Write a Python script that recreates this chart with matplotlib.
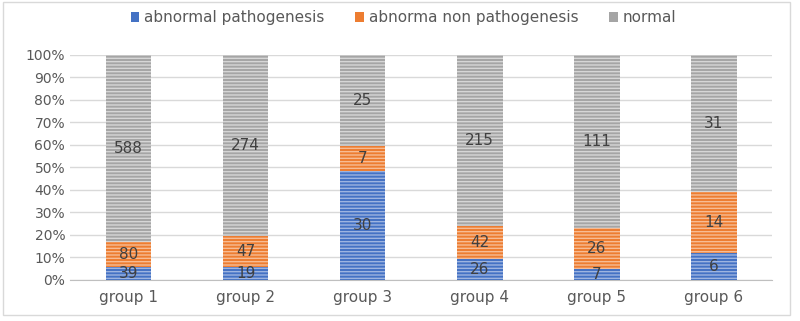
import matplotlib
matplotlib.use('Agg')
import matplotlib.pyplot as plt
import numpy as np
from matplotlib.patches import Rectangle

# datos (conteos)
grupos = ['group 1', 'group 2', 'group 3', 'group 4', 'group 5', 'group 6']
patogenico = [39, 19, 30, 26, 7, 6]
no_patogenico = [80, 47, 7, 42, 26, 14]
normal = [588, 274, 25, 215, 111, 31]
series = ['abnormal pathogenesis', 'abnorma non pathogenesis', 'normal']
colores = ['#4472C4', '#ED7D31', '#A5A5A5']
rayas = ['#9DB4E0', '#F7BC94', '#D6D6D6']

plt.rcParams['font.family'] = ['DejaVu Sans']
plt.rcParams['hatch.linewidth'] = 1.0

fig = plt.figure(figsize=(8, 3.21), dpi=100)
# marco exterior del grafico
fig.patches.append(Rectangle((0.004, 0.02), 0.984, 0.975, transform=fig.transFigure,
                             fill=False, edgecolor='#D9D9D9', linewidth=1))
ax = fig.add_axes([0.0875, 0.128, 0.878, 0.701])

datos = np.array([patogenico, no_patogenico, normal], dtype=float)
totales = datos.sum(axis=0)
porc = datos / totales * 100
x = np.arange(len(grupos))
abajo = np.zeros(len(grupos))
for i in range(3):
    ax.bar(x, porc[i], 0.39, bottom=abajo, color=colores[i], edgecolor=rayas[i],
           linewidth=0, hatch='-----', label=series[i], zorder=2)
    for j in range(len(grupos)):
        ax.text(x[j], abajo[j] + porc[i][j] / 2, str(int(datos[i][j])), ha='center', va='center',
                fontsize=11, color='#404040', zorder=3)
    abajo = abajo + porc[i]

ax.set_xlim(-0.5, len(grupos) - 0.5)
ax.set_ylim(0, 100)
ax.set_yticks(range(0, 101, 10))
ax.set_yticklabels([f'{v}%' for v in range(0, 101, 10)])
ax.set_xticks(x)
ax.set_xticklabels(grupos)
ax.grid(axis='y', color='#D9D9D9', linewidth=1, zorder=0)
ax.set_axisbelow(True)
for s in ['top', 'right', 'left']:
    ax.spines[s].set_visible(False)
ax.spines['bottom'].set_color('#BFBFBF')
ax.tick_params(axis='both', length=0, colors='#595959', labelsize=10)
ax.tick_params(axis='x', pad=7, labelsize=11)

leg = ax.legend(loc='lower center', bbox_to_anchor=(0.475, 1.07), ncol=3, frameon=False,
                fontsize=11, handlelength=0.55, handleheight=0.55, handletextpad=0.35,
                columnspacing=2.0, labelcolor='#595959')
for h in leg.legend_handles:
    h.set_hatch(None)

fig.savefig('out.png', dpi=100)
